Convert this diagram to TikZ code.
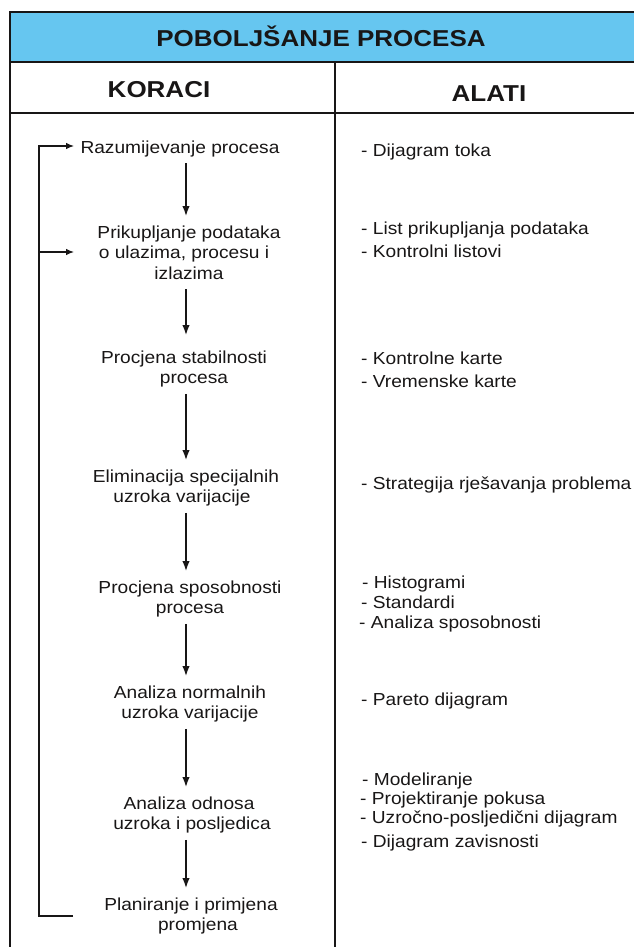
\documentclass[tikz,border=0pt]{standalone}
\usepackage{fontspec}
\setmainfont{Liberation Sans}[FakeStretch=1.1]
\newfontfamily\hdfont{Liberation Sans}[FakeStretch=1.13]
\usetikzlibrary{arrows.meta}
\definecolor{hdblue}{RGB}{102,198,240}
\definecolor{inkc}{RGB}{24,22,22}
\newcommand\myT{\rule{0pt}{13pt}}
\newcommand\myB{\rule[-4pt]{0pt}{4pt}}
\begin{document}
\begin{tikzpicture}[x=1pt,y=-1pt,
  stepnode/.style={inner sep=0pt, align=center, anchor=north, text=inkc,
    font=\fontsize{17.4}{20.5}\selectfont},
  toolnode/.style={inner sep=0pt, anchor=base west, text=inkc,
    font=\fontsize{17.4}{20.5}\selectfont},
  headnode/.style={inner sep=0pt, anchor=base, text=inkc,
    font=\hdfont\bfseries\fontsize{23}{26}\selectfont},
  flow/.style={draw=inkc, line width=1.5pt, -{Latex[length=10pt,width=7.5pt]},
    shorten <=6pt, shorten >=9pt},
  looparrow/.style={draw=inkc, line width=1.1pt, -{Latex[length=8pt,width=6.5pt]}},
  frameline/.style={draw=inkc, line width=1.8pt}]
\useasboundingbox (0,0) rectangle (634,947);
\clip (0,0) rectangle (634,947);

% frame and header
\fill[hdblue] (10,12) rectangle (650,62);
\draw[frameline] (10,960) -- (10,12) -- (650,12);
\draw[frameline] (10,62) -- (650,62);
\draw[frameline] (10,113) -- (650,113);
\draw[frameline] (335,62) -- (335,960);

\node[headnode] (title) at (321,47) {POBOLJŠANJE PROCESA};
\node[headnode] (koraci) at (159,98) {KORACI};
\node[headnode] (alati) at (489,102) {ALATI};

% steps
\node[stepnode] (s1) at (180,140) {\myT Razumijevanje procesa\myB};
\node[stepnode] (s2) at (189,225) {\myT Prikupljanje podataka\\o ulazima, procesu i\kern10pt\\izlazima\myB};
\node[stepnode] (s3) at (184,350) {\myT Procjena stabilnosti\\\kern20pt procesa\myB};
\node[stepnode] (s4) at (186,469) {\myT Eliminacija specijalnih\\uzroka varijacije\kern8pt\myB};
\node[stepnode] (s5) at (190,580) {\myT Procjena sposobnosti\\procesa\myB};
\node[stepnode] (s6) at (190,685) {\myT Analiza normalnih\\uzroka varijacije\myB};
\node[stepnode] (s7) at (189,796) {\myT Analiza odnosa\\\kern6pt uzroka i posljedica\myB};
\node[stepnode] (s8) at (191,897) {\myT Planiranje i primjena\\\kern14pt promjena\myB};

\coordinate (ax) at (186,0);
\draw[flow] (s1.south -| ax) -- (s2.north -| ax);
\draw[flow, shorten >=15pt] (s2.south -| ax) -- (s3.north -| ax);
\draw[flow] (s3.south -| ax) -- (s4.north -| ax);
\draw[flow] (s4.south -| ax) -- (s5.north -| ax);
\draw[flow] (s5.south -| ax) -- (s6.north -| ax);
\draw[flow] (s6.south -| ax) -- (s7.north -| ax);
\draw[flow] (s7.south -| ax) -- (s8.north -| ax);

% feedback loop
\coordinate (lt) at (39,146);
\coordinate (lb) at (39,916);
\coordinate (in1) at (74,146);
\coordinate (in2) at (74,252);
\coordinate (out8) at (73,916);
\draw[looparrow] (out8) -- (lb) -- (lt) -- (in1);
\draw[looparrow] (lb |- in2) -- (in2);

% tools
\node[toolnode] (t1) at (361,157) {- Dijagram toka};
\node[toolnode] (t2) at (361,234) {- List prikupljanja podataka};
\node[toolnode] (t3) at (361,257) {- Kontrolni listovi};
\node[toolnode] (t4) at (361,364) {- Kontrolne karte};
\node[toolnode] (t5) at (361,387) {- Vremenske karte};
\node[toolnode] (t6) at (361,489) {- Strategija rješavanja problema};
\node[toolnode] (t7) at (362,588) {- Histogrami};
\node[toolnode] (t8) at (361,608) {- Standardi};
\node[toolnode] (t9) at (359,628) {- Analiza sposobnosti};
\node[toolnode] (t10) at (361,705) {- Pareto dijagram};
\node[toolnode] (t11) at (362,785) {- Modeliranje};
\node[toolnode] (t12) at (360,804) {- Projektiranje pokusa};
\node[toolnode] (t13) at (360,823) {- Uzročno-posljedični dijagram};
\node[toolnode] (t14) at (361,847) {- Dijagram zavisnosti};
\end{tikzpicture}
\end{document}
